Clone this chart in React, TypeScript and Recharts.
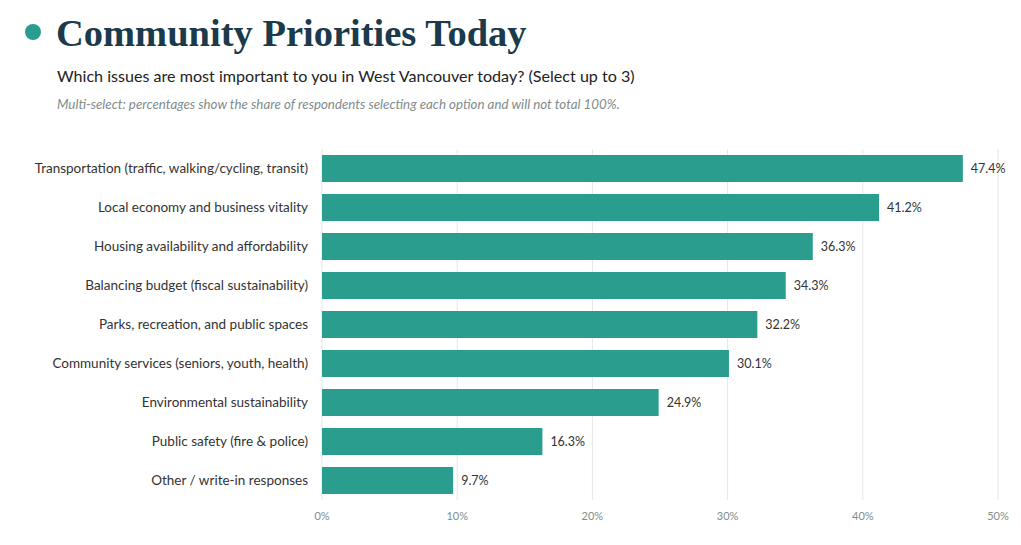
import { BarChart, Bar, XAxis, YAxis, CartesianGrid, LabelList } from 'recharts';

const CATEGORIES = [
  'Transportation (traffic, walking/cycling, transit)',
  'Local economy and business vitality',
  'Housing availability and affordability',
  'Balancing budget (fiscal sustainability)',
  'Parks, recreation, and public spaces',
  'Community services (seniors, youth, health)',
  'Environmental sustainability',
  'Public safety (fire & police)',
  'Other / write-in responses',
];

const SHARES = [47.4, 41.2, 36.3, 34.3, 32.2, 30.1, 24.9, 16.3, 9.7];

const X_TICKS = [0, 10, 20, 30, 40, 50];

const TEAL = '#2a9d8f';
const NAVY = '#1b3a4b';
const SANS = 'Lato, "Open Sans", sans-serif';

const rows = CATEGORIES.map((name, i) => ({ name, share: SHARES[i] }));

export default function App() {
  return (
    <div style={{ position: 'relative', width: 1021, height: 545, background: '#fff', fontFamily: SANS }}>
      <style>{`body{margin:0}`}</style>
      <div
        style={{
          position: 'absolute', left: 25, top: 24, width: 16, height: 16,
          borderRadius: '50%', background: TEAL,
        }}
      />
      <div
        style={{
          position: 'absolute', left: 56, top: 11, fontFamily: '"Liberation Serif", serif',
          fontWeight: 700, fontSize: 38.5, color: NAVY, whiteSpace: 'nowrap',
        }}
      >
        Community Priorities Today
      </div>
      <div style={{ position: 'absolute', left: 57, top: 66, fontSize: 16.1, color: '#222', whiteSpace: 'nowrap' }}>
        Which issues are most important to you in West Vancouver today? (Select up to 3)
      </div>
      <div
        style={{
          position: 'absolute', left: 57, top: 96, fontSize: 13.3, fontStyle: 'italic',
          color: '#7f8c8d', whiteSpace: 'nowrap',
        }}
      >
        Multi-select: percentages show the share of respondents selecting each option and will not total 100%.
      </div>
      <div style={{ position: 'absolute', left: 0, top: 130 }}>
        <BarChart
          width={1021}
          height={410}
          data={rows}
          layout="vertical"
          margin={{ top: 19, right: 23, bottom: 0, left: 0 }}
          barSize={27}
        >
          <CartesianGrid horizontal={false} stroke="#e3e8e8" />
          <XAxis
            type="number"
            domain={[0, 50]}
            ticks={X_TICKS}
            tickFormatter={(v) => `${v}%`}
            axisLine={false}
            tickLine={false}
            tickMargin={6}
            height={40}
            tick={{ fill: '#7f8c8d', fontSize: 11, fontFamily: SANS }}
          />
          <YAxis
            type="category"
            dataKey="name"
            width={322}
            axisLine={false}
            tickLine={false}
            tickMargin={8}
            tick={{ fill: '#333', fontSize: 13.5, fontFamily: SANS }}
          />
          <Bar dataKey="share" fill={TEAL} isAnimationActive={false}>
            <LabelList
              dataKey="share"
              position="right"
              offset={8}
              formatter={(v: any) => `${v}%`}
              style={{ fill: '#333', fontSize: 12.5, fontFamily: SANS }}
            />
          </Bar>
        </BarChart>
      </div>
    </div>
  );
}
